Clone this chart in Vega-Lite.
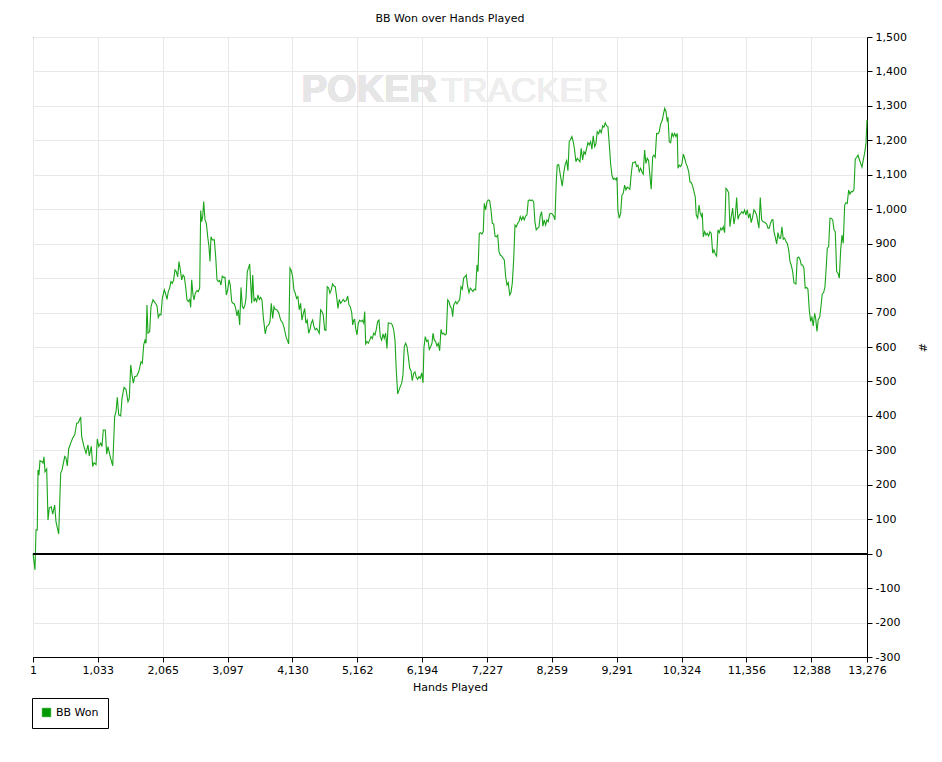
{
  "$schema": "https://vega.github.io/schema/vega-lite/v6.json",
  "width": 834,
  "height": 620,
  "autosize": "none",
  "padding": {"left": 33, "top": 37, "right": 75, "bottom": 105},
  "background": "white",
  "title": {
    "text": "BB Won over Hands Played",
    "font": "DejaVu Sans",
    "fontSize": 11,
    "fontWeight": "normal",
    "color": "black",
    "offset": 7
  },
  "config": {
    "locale": {
      "number": {"decimal": ".", "thousands": ",", "grouping": [3], "currency": ["$", ""], "minus": "-"}
    },
    "view": {"stroke": "black", "strokeWidth": 1},
    "axis": {
      "labelFont": "DejaVu Sans",
      "labelFontSize": 11,
      "labelColor": "black",
      "titleFont": "DejaVu Sans",
      "titleFontSize": 11,
      "titleFontWeight": "normal",
      "titleColor": "black",
      "domainColor": "black",
      "tickColor": "black",
      "tickSize": 5,
      "grid": true,
      "gridColor": "#e8e8e8",
      "gridWidth": 1,
      "labelFlush": false,
      "labelOverlap": false
    }
  },
  "data": {
    "values": [
      {"h": 1, "bb": 0}, {"h": 33, "bb": -47}, {"h": 49, "bb": 69}, {"h": 69, "bb": 69}, {"h": 81, "bb": 243},
      {"h": 96, "bb": 228}, {"h": 112, "bb": 270}, {"h": 144, "bb": 267}, {"h": 160, "bb": 263}, {"h": 176, "bb": 281},
      {"h": 192, "bb": 238}, {"h": 219, "bb": 246}, {"h": 240, "bb": 98}, {"h": 260, "bb": 133}, {"h": 292, "bb": 136},
      {"h": 315, "bb": 115}, {"h": 346, "bb": 141}, {"h": 367, "bb": 93}, {"h": 410, "bb": 57}, {"h": 442, "bb": 234},
      {"h": 463, "bb": 243}, {"h": 506, "bb": 282}, {"h": 526, "bb": 278}, {"h": 547, "bb": 255}, {"h": 569, "bb": 304},
      {"h": 601, "bb": 321}, {"h": 633, "bb": 336}, {"h": 665, "bb": 345}, {"h": 697, "bb": 379}, {"h": 722, "bb": 380},
      {"h": 760, "bb": 397}, {"h": 776, "bb": 340}, {"h": 813, "bb": 310}, {"h": 845, "bb": 292}, {"h": 876, "bb": 316},
      {"h": 897, "bb": 284}, {"h": 929, "bb": 312}, {"h": 951, "bb": 253}, {"h": 972, "bb": 264}, {"h": 1004, "bb": 258},
      {"h": 1024, "bb": 333}, {"h": 1047, "bb": 311}, {"h": 1079, "bb": 321}, {"h": 1099, "bb": 311}, {"h": 1120, "bb": 359},
      {"h": 1152, "bb": 359}, {"h": 1174, "bb": 289}, {"h": 1195, "bb": 311}, {"h": 1227, "bb": 284}, {"h": 1270, "bb": 255},
      {"h": 1301, "bb": 398}, {"h": 1322, "bb": 412}, {"h": 1343, "bb": 454}, {"h": 1365, "bb": 403}, {"h": 1397, "bb": 400},
      {"h": 1418, "bb": 451}, {"h": 1450, "bb": 483}, {"h": 1481, "bb": 477}, {"h": 1513, "bb": 441}, {"h": 1534, "bb": 451},
      {"h": 1556, "bb": 548}, {"h": 1577, "bb": 519}, {"h": 1598, "bb": 495}, {"h": 1620, "bb": 514}, {"h": 1652, "bb": 516},
      {"h": 1684, "bb": 528}, {"h": 1720, "bb": 557}, {"h": 1741, "bb": 553}, {"h": 1763, "bb": 606}, {"h": 1784, "bb": 620},
      {"h": 1800, "bb": 611}, {"h": 1815, "bb": 722}, {"h": 1831, "bb": 640}, {"h": 1858, "bb": 645}, {"h": 1879, "bb": 717},
      {"h": 1911, "bb": 737}, {"h": 1943, "bb": 729}, {"h": 1975, "bb": 719}, {"h": 1995, "bb": 686}, {"h": 2017, "bb": 695},
      {"h": 2038, "bb": 693}, {"h": 2059, "bb": 741}, {"h": 2091, "bb": 766}, {"h": 2113, "bb": 754}, {"h": 2134, "bb": 738},
      {"h": 2154, "bb": 761}, {"h": 2176, "bb": 771}, {"h": 2197, "bb": 790}, {"h": 2218, "bb": 785}, {"h": 2240, "bb": 795},
      {"h": 2261, "bb": 824}, {"h": 2282, "bb": 819}, {"h": 2304, "bb": 804}, {"h": 2325, "bb": 848}, {"h": 2346, "bb": 824},
      {"h": 2368, "bb": 795}, {"h": 2389, "bb": 809}, {"h": 2409, "bb": 804}, {"h": 2431, "bb": 775}, {"h": 2452, "bb": 737},
      {"h": 2473, "bb": 732}, {"h": 2495, "bb": 738}, {"h": 2511, "bb": 715}, {"h": 2527, "bb": 795}, {"h": 2548, "bb": 751},
      {"h": 2564, "bb": 737}, {"h": 2584, "bb": 756}, {"h": 2611, "bb": 764}, {"h": 2632, "bb": 761}, {"h": 2654, "bb": 771},
      {"h": 2670, "bb": 996}, {"h": 2686, "bb": 964}, {"h": 2702, "bb": 979}, {"h": 2718, "bb": 1022}, {"h": 2739, "bb": 969},
      {"h": 2760, "bb": 959}, {"h": 2782, "bb": 920}, {"h": 2802, "bb": 891}, {"h": 2818, "bb": 848}, {"h": 2834, "bb": 920},
      {"h": 2855, "bb": 911}, {"h": 2887, "bb": 911}, {"h": 2909, "bb": 862}, {"h": 2930, "bb": 795}, {"h": 2950, "bb": 790},
      {"h": 2972, "bb": 793}, {"h": 2993, "bb": 780}, {"h": 3014, "bb": 806}, {"h": 3036, "bb": 802}, {"h": 3057, "bb": 802},
      {"h": 3078, "bb": 751}, {"h": 3100, "bb": 766}, {"h": 3121, "bb": 795}, {"h": 3141, "bb": 780}, {"h": 3164, "bb": 732},
      {"h": 3184, "bb": 727}, {"h": 3205, "bb": 725}, {"h": 3227, "bb": 712}, {"h": 3248, "bb": 690}, {"h": 3269, "bb": 708},
      {"h": 3291, "bb": 664}, {"h": 3312, "bb": 773}, {"h": 3333, "bb": 717}, {"h": 3355, "bb": 712}, {"h": 3375, "bb": 722},
      {"h": 3391, "bb": 741}, {"h": 3412, "bb": 819}, {"h": 3434, "bb": 831}, {"h": 3450, "bb": 841}, {"h": 3466, "bb": 785},
      {"h": 3482, "bb": 727}, {"h": 3498, "bb": 809}, {"h": 3519, "bb": 732}, {"h": 3539, "bb": 741}, {"h": 3561, "bb": 732},
      {"h": 3582, "bb": 751}, {"h": 3603, "bb": 738}, {"h": 3625, "bb": 744}, {"h": 3646, "bb": 737}, {"h": 3666, "bb": 688},
      {"h": 3698, "bb": 638}, {"h": 3720, "bb": 659}, {"h": 3752, "bb": 664}, {"h": 3773, "bb": 674}, {"h": 3794, "bb": 727},
      {"h": 3816, "bb": 683}, {"h": 3837, "bb": 717}, {"h": 3857, "bb": 709}, {"h": 3879, "bb": 708}, {"h": 3911, "bb": 700},
      {"h": 3943, "bb": 678}, {"h": 3975, "bb": 670}, {"h": 3996, "bb": 657}, {"h": 4028, "bb": 630}, {"h": 4048, "bb": 620},
      {"h": 4071, "bb": 609}, {"h": 4091, "bb": 829}, {"h": 4112, "bb": 822}, {"h": 4134, "bb": 804}, {"h": 4154, "bb": 766},
      {"h": 4175, "bb": 756}, {"h": 4197, "bb": 741}, {"h": 4218, "bb": 746}, {"h": 4239, "bb": 708}, {"h": 4261, "bb": 727},
      {"h": 4282, "bb": 678}, {"h": 4303, "bb": 696}, {"h": 4325, "bb": 712}, {"h": 4345, "bb": 669}, {"h": 4366, "bb": 678},
      {"h": 4389, "bb": 640}, {"h": 4409, "bb": 650}, {"h": 4430, "bb": 669}, {"h": 4452, "bb": 678}, {"h": 4473, "bb": 659},
      {"h": 4493, "bb": 650}, {"h": 4516, "bb": 654}, {"h": 4536, "bb": 648}, {"h": 4557, "bb": 640}, {"h": 4579, "bb": 708},
      {"h": 4600, "bb": 703}, {"h": 4621, "bb": 693}, {"h": 4643, "bb": 650}, {"h": 4664, "bb": 648}, {"h": 4684, "bb": 775},
      {"h": 4707, "bb": 771}, {"h": 4727, "bb": 756}, {"h": 4748, "bb": 766}, {"h": 4770, "bb": 783}, {"h": 4791, "bb": 777},
      {"h": 4812, "bb": 775}, {"h": 4834, "bb": 746}, {"h": 4855, "bb": 712}, {"h": 4876, "bb": 738}, {"h": 4898, "bb": 727},
      {"h": 4918, "bb": 732}, {"h": 4939, "bb": 738}, {"h": 4961, "bb": 732}, {"h": 4988, "bb": 735}, {"h": 5010, "bb": 748},
      {"h": 5031, "bb": 722}, {"h": 5051, "bb": 717}, {"h": 5074, "bb": 700}, {"h": 5090, "bb": 664}, {"h": 5106, "bb": 678},
      {"h": 5121, "bb": 680}, {"h": 5137, "bb": 654}, {"h": 5158, "bb": 635}, {"h": 5179, "bb": 669}, {"h": 5201, "bb": 678},
      {"h": 5222, "bb": 674}, {"h": 5242, "bb": 678}, {"h": 5265, "bb": 669}, {"h": 5281, "bb": 703}, {"h": 5296, "bb": 609},
      {"h": 5317, "bb": 616}, {"h": 5338, "bb": 611}, {"h": 5360, "bb": 620}, {"h": 5381, "bb": 630}, {"h": 5402, "bb": 624},
      {"h": 5424, "bb": 640}, {"h": 5445, "bb": 635}, {"h": 5465, "bb": 651}, {"h": 5487, "bb": 674}, {"h": 5508, "bb": 678},
      {"h": 5529, "bb": 630}, {"h": 5551, "bb": 620}, {"h": 5572, "bb": 638}, {"h": 5592, "bb": 625}, {"h": 5614, "bb": 640},
      {"h": 5635, "bb": 596}, {"h": 5656, "bb": 670}, {"h": 5678, "bb": 669}, {"h": 5699, "bb": 669}, {"h": 5720, "bb": 664},
      {"h": 5742, "bb": 650}, {"h": 5763, "bb": 620}, {"h": 5783, "bb": 533}, {"h": 5806, "bb": 464}, {"h": 5827, "bb": 475},
      {"h": 5847, "bb": 485}, {"h": 5870, "bb": 495}, {"h": 5890, "bb": 519}, {"h": 5911, "bb": 601}, {"h": 5933, "bb": 611},
      {"h": 5954, "bb": 601}, {"h": 5975, "bb": 572}, {"h": 5997, "bb": 538}, {"h": 6018, "bb": 531}, {"h": 6038, "bb": 502},
      {"h": 6061, "bb": 524}, {"h": 6081, "bb": 528}, {"h": 6102, "bb": 512}, {"h": 6124, "bb": 506}, {"h": 6145, "bb": 514},
      {"h": 6166, "bb": 509}, {"h": 6188, "bb": 525}, {"h": 6209, "bb": 496}, {"h": 6224, "bb": 599}, {"h": 6245, "bb": 630},
      {"h": 6267, "bb": 616}, {"h": 6288, "bb": 620}, {"h": 6309, "bb": 593}, {"h": 6331, "bb": 601}, {"h": 6352, "bb": 611},
      {"h": 6368, "bb": 640}, {"h": 6388, "bb": 620}, {"h": 6410, "bb": 616}, {"h": 6431, "bb": 603}, {"h": 6452, "bb": 611},
      {"h": 6474, "bb": 589}, {"h": 6495, "bb": 651}, {"h": 6516, "bb": 638}, {"h": 6538, "bb": 640}, {"h": 6559, "bb": 635},
      {"h": 6580, "bb": 638}, {"h": 6602, "bb": 737}, {"h": 6622, "bb": 732}, {"h": 6643, "bb": 717}, {"h": 6665, "bb": 712},
      {"h": 6681, "bb": 688}, {"h": 6697, "bb": 722}, {"h": 6729, "bb": 732}, {"h": 6750, "bb": 725}, {"h": 6770, "bb": 732},
      {"h": 6793, "bb": 737}, {"h": 6813, "bb": 775}, {"h": 6834, "bb": 768}, {"h": 6856, "bb": 800}, {"h": 6877, "bb": 804},
      {"h": 6897, "bb": 809}, {"h": 6920, "bb": 775}, {"h": 6941, "bb": 758}, {"h": 6962, "bb": 771}, {"h": 6984, "bb": 766},
      {"h": 7004, "bb": 761}, {"h": 7025, "bb": 768}, {"h": 7047, "bb": 766}, {"h": 7068, "bb": 838}, {"h": 7084, "bb": 819},
      {"h": 7105, "bb": 930}, {"h": 7127, "bb": 932}, {"h": 7147, "bb": 928}, {"h": 7168, "bb": 935}, {"h": 7184, "bb": 1017},
      {"h": 7206, "bb": 998}, {"h": 7227, "bb": 1022}, {"h": 7248, "bb": 1027}, {"h": 7270, "bb": 1025}, {"h": 7291, "bb": 998},
      {"h": 7312, "bb": 959}, {"h": 7334, "bb": 957}, {"h": 7355, "bb": 922}, {"h": 7375, "bb": 920}, {"h": 7398, "bb": 925},
      {"h": 7418, "bb": 877}, {"h": 7439, "bb": 867}, {"h": 7461, "bb": 864}, {"h": 7482, "bb": 858}, {"h": 7503, "bb": 853},
      {"h": 7525, "bb": 804}, {"h": 7546, "bb": 780}, {"h": 7566, "bb": 787}, {"h": 7589, "bb": 751}, {"h": 7609, "bb": 758},
      {"h": 7630, "bb": 785}, {"h": 7652, "bb": 853}, {"h": 7673, "bb": 954}, {"h": 7693, "bb": 949}, {"h": 7716, "bb": 959},
      {"h": 7737, "bb": 964}, {"h": 7757, "bb": 979}, {"h": 7779, "bb": 969}, {"h": 7800, "bb": 979}, {"h": 7820, "bb": 969},
      {"h": 7842, "bb": 980}, {"h": 7863, "bb": 983}, {"h": 7884, "bb": 1025}, {"h": 7906, "bb": 1027}, {"h": 7927, "bb": 1025},
      {"h": 7947, "bb": 1027}, {"h": 7970, "bb": 1022}, {"h": 7990, "bb": 964}, {"h": 8011, "bb": 940}, {"h": 8033, "bb": 945},
      {"h": 8054, "bb": 948}, {"h": 8074, "bb": 979}, {"h": 8097, "bb": 993}, {"h": 8118, "bb": 951}, {"h": 8138, "bb": 969},
      {"h": 8161, "bb": 954}, {"h": 8181, "bb": 969}, {"h": 8202, "bb": 964}, {"h": 8224, "bb": 986}, {"h": 8245, "bb": 988},
      {"h": 8266, "bb": 986}, {"h": 8288, "bb": 980}, {"h": 8309, "bb": 969}, {"h": 8329, "bb": 1075}, {"h": 8345, "bb": 1128},
      {"h": 8368, "bb": 1130}, {"h": 8400, "bb": 1094}, {"h": 8425, "bb": 1067}, {"h": 8452, "bb": 1109}, {"h": 8473, "bb": 1131},
      {"h": 8495, "bb": 1141}, {"h": 8516, "bb": 1112}, {"h": 8536, "bb": 1196}, {"h": 8559, "bb": 1203}, {"h": 8579, "bb": 1211},
      {"h": 8600, "bb": 1196}, {"h": 8622, "bb": 1172}, {"h": 8643, "bb": 1138}, {"h": 8664, "bb": 1148}, {"h": 8686, "bb": 1143},
      {"h": 8707, "bb": 1138}, {"h": 8727, "bb": 1177}, {"h": 8750, "bb": 1143}, {"h": 8770, "bb": 1167}, {"h": 8791, "bb": 1160},
      {"h": 8813, "bb": 1177}, {"h": 8834, "bb": 1193}, {"h": 8855, "bb": 1187}, {"h": 8877, "bb": 1196}, {"h": 8898, "bb": 1174},
      {"h": 8918, "bb": 1213}, {"h": 8941, "bb": 1182}, {"h": 8961, "bb": 1190}, {"h": 8982, "bb": 1225}, {"h": 9004, "bb": 1219},
      {"h": 9025, "bb": 1230}, {"h": 9046, "bb": 1222}, {"h": 9068, "bb": 1242}, {"h": 9089, "bb": 1238}, {"h": 9110, "bb": 1251},
      {"h": 9132, "bb": 1242}, {"h": 9152, "bb": 1240}, {"h": 9173, "bb": 1191}, {"h": 9195, "bb": 1133}, {"h": 9216, "bb": 1099},
      {"h": 9237, "bb": 1087}, {"h": 9259, "bb": 1090}, {"h": 9280, "bb": 1085}, {"h": 9296, "bb": 1093}, {"h": 9311, "bb": 998},
      {"h": 9332, "bb": 974}, {"h": 9355, "bb": 988}, {"h": 9375, "bb": 1041}, {"h": 9396, "bb": 1046}, {"h": 9418, "bb": 1070},
      {"h": 9439, "bb": 1056}, {"h": 9459, "bb": 1064}, {"h": 9482, "bb": 1061}, {"h": 9502, "bb": 1058}, {"h": 9523, "bb": 1102},
      {"h": 9545, "bb": 1135}, {"h": 9566, "bb": 1135}, {"h": 9587, "bb": 1138}, {"h": 9609, "bb": 1124}, {"h": 9630, "bb": 1128},
      {"h": 9650, "bb": 1109}, {"h": 9673, "bb": 1119}, {"h": 9693, "bb": 1109}, {"h": 9714, "bb": 1102}, {"h": 9736, "bb": 1172},
      {"h": 9757, "bb": 1133}, {"h": 9778, "bb": 1148}, {"h": 9800, "bb": 1141}, {"h": 9820, "bb": 1099}, {"h": 9841, "bb": 1058},
      {"h": 9864, "bb": 1152}, {"h": 9884, "bb": 1157}, {"h": 9905, "bb": 1151}, {"h": 9927, "bb": 1220}, {"h": 9948, "bb": 1219},
      {"h": 9969, "bb": 1225}, {"h": 9991, "bb": 1247}, {"h": 10018, "bb": 1259}, {"h": 10040, "bb": 1280}, {"h": 10056, "bb": 1293},
      {"h": 10077, "bb": 1283}, {"h": 10097, "bb": 1254}, {"h": 10108, "bb": 1267}, {"h": 10129, "bb": 1196}, {"h": 10151, "bb": 1193},
      {"h": 10172, "bb": 1222}, {"h": 10192, "bb": 1211}, {"h": 10215, "bb": 1220}, {"h": 10235, "bb": 1211}, {"h": 10256, "bb": 1220},
      {"h": 10268, "bb": 1119}, {"h": 10288, "bb": 1128}, {"h": 10310, "bb": 1124}, {"h": 10331, "bb": 1133}, {"h": 10352, "bb": 1160},
      {"h": 10374, "bb": 1148}, {"h": 10395, "bb": 1133}, {"h": 10415, "bb": 1124}, {"h": 10438, "bb": 1109}, {"h": 10458, "bb": 1080},
      {"h": 10479, "bb": 1077}, {"h": 10501, "bb": 1067}, {"h": 10522, "bb": 1051}, {"h": 10542, "bb": 1036}, {"h": 10558, "bb": 983},
      {"h": 10581, "bb": 974}, {"h": 10602, "bb": 1012}, {"h": 10622, "bb": 988}, {"h": 10645, "bb": 978}, {"h": 10654, "bb": 990},
      {"h": 10670, "bb": 920}, {"h": 10692, "bb": 935}, {"h": 10713, "bb": 925}, {"h": 10734, "bb": 930}, {"h": 10756, "bb": 922},
      {"h": 10776, "bb": 935}, {"h": 10797, "bb": 930}, {"h": 10820, "bb": 872}, {"h": 10840, "bb": 882}, {"h": 10861, "bb": 870},
      {"h": 10883, "bb": 864}, {"h": 10904, "bb": 940}, {"h": 10924, "bb": 932}, {"h": 10947, "bb": 945}, {"h": 10967, "bb": 940},
      {"h": 10988, "bb": 949}, {"h": 11010, "bb": 932}, {"h": 11031, "bb": 1061}, {"h": 11052, "bb": 1056}, {"h": 11074, "bb": 1048},
      {"h": 11094, "bb": 949}, {"h": 11115, "bb": 978}, {"h": 11138, "bb": 1003}, {"h": 11158, "bb": 957}, {"h": 11179, "bb": 978},
      {"h": 11201, "bb": 1034}, {"h": 11222, "bb": 971}, {"h": 11243, "bb": 983}, {"h": 11265, "bb": 988}, {"h": 11285, "bb": 993},
      {"h": 11306, "bb": 988}, {"h": 11328, "bb": 998}, {"h": 11349, "bb": 983}, {"h": 11370, "bb": 998}, {"h": 11392, "bb": 974},
      {"h": 11413, "bb": 988}, {"h": 11433, "bb": 961}, {"h": 11456, "bb": 978}, {"h": 11476, "bb": 998}, {"h": 11497, "bb": 993},
      {"h": 11519, "bb": 983}, {"h": 11540, "bb": 961}, {"h": 11556, "bb": 945}, {"h": 11577, "bb": 1034}, {"h": 11599, "bb": 969},
      {"h": 11620, "bb": 964}, {"h": 11656, "bb": 961}, {"h": 11679, "bb": 957}, {"h": 11700, "bb": 945}, {"h": 11720, "bb": 945},
      {"h": 11743, "bb": 961}, {"h": 11763, "bb": 969}, {"h": 11779, "bb": 969}, {"h": 11795, "bb": 935}, {"h": 11815, "bb": 920},
      {"h": 11838, "bb": 899}, {"h": 11859, "bb": 932}, {"h": 11879, "bb": 916}, {"h": 11902, "bb": 916}, {"h": 11922, "bb": 949},
      {"h": 11943, "bb": 913}, {"h": 11965, "bb": 916}, {"h": 11986, "bb": 906}, {"h": 12006, "bb": 901}, {"h": 12029, "bb": 883},
      {"h": 12050, "bb": 848}, {"h": 12070, "bb": 838}, {"h": 12093, "bb": 819}, {"h": 12113, "bb": 787}, {"h": 12145, "bb": 783},
      {"h": 12166, "bb": 858}, {"h": 12188, "bb": 861}, {"h": 12209, "bb": 855}, {"h": 12230, "bb": 838}, {"h": 12252, "bb": 838},
      {"h": 12272, "bb": 828}, {"h": 12293, "bb": 771}, {"h": 12316, "bb": 773}, {"h": 12336, "bb": 768}, {"h": 12357, "bb": 708},
      {"h": 12379, "bb": 674}, {"h": 12399, "bb": 688}, {"h": 12420, "bb": 661}, {"h": 12443, "bb": 698}, {"h": 12459, "bb": 683},
      {"h": 12480, "bb": 645}, {"h": 12500, "bb": 680}, {"h": 12523, "bb": 686}, {"h": 12543, "bb": 717}, {"h": 12564, "bb": 754},
      {"h": 12586, "bb": 758}, {"h": 12607, "bb": 775}, {"h": 12628, "bb": 835}, {"h": 12644, "bb": 887}, {"h": 12666, "bb": 891},
      {"h": 12686, "bb": 974}, {"h": 12707, "bb": 974}, {"h": 12730, "bb": 969}, {"h": 12751, "bb": 940}, {"h": 12771, "bb": 935},
      {"h": 12793, "bb": 819}, {"h": 12814, "bb": 814}, {"h": 12835, "bb": 800}, {"h": 12857, "bb": 882}, {"h": 12878, "bb": 925},
      {"h": 12898, "bb": 901}, {"h": 12921, "bb": 1012}, {"h": 12941, "bb": 1019}, {"h": 12962, "bb": 1017}, {"h": 12984, "bb": 1056},
      {"h": 13005, "bb": 1044}, {"h": 13026, "bb": 1051}, {"h": 13048, "bb": 1051}, {"h": 13068, "bb": 1056}, {"h": 13089, "bb": 1145},
      {"h": 13112, "bb": 1151}, {"h": 13132, "bb": 1157}, {"h": 13153, "bb": 1145}, {"h": 13175, "bb": 1133}, {"h": 13196, "bb": 1122},
      {"h": 13217, "bb": 1143}, {"h": 13239, "bb": 1164}, {"h": 13260, "bb": 1191}, {"h": 13276, "bb": 1259}
    ]
  },
  "layer": [
    {
      "mark": {"type": "line", "strokeWidth": 1.1, "interpolate": "linear"},
      "encoding": {
        "x": {
          "field": "h",
          "type": "quantitative",
          "title": "Hands Played",
          "scale": {"domain": [1, 13276], "nice": false, "zero": false},
          "axis": {
            "values": [1, 1033, 2065, 3097, 4130, 5162, 6194, 7227, 8259, 9291, 10324, 11356, 12388, 13276],
            "tickCount": 30,
            "format": ",d",
            "grid": true,
            "labelPadding": 2,
            "titlePadding": 6
          }
        },
        "y": {
          "field": "bb",
          "type": "quantitative",
          "title": "#",
          "scale": {"domain": [-300, 1500], "nice": false, "zero": false},
          "axis": {
            "orient": "right",
            "values": [-300, -200, -100, 0, 100, 200, 300, 400, 500, 600, 700, 800, 900, 1000, 1100, 1200, 1300, 1400, 1500],
            "tickCount": 30,
            "format": ",d",
            "grid": true,
            "labelPadding": 3,
            "titlePadding": 10
          }
        },
        "color": {
          "datum": "BB Won",
          "type": "nominal",
          "scale": {"domain": ["BB Won"], "range": ["#1aa51a"]},
          "legend": {
            "title": null,
            "orient": "none",
            "legendX": -1,
            "legendY": 661,
            "strokeColor": "black",
            "padding": 9,
            "labelFont": "DejaVu Sans",
            "labelFontSize": 11,
            "labelColor": "black",
            "labelOffset": 4,
            "symbolType": "square",
            "symbolSize": 70,
            "encode": {
              "symbols": {
                "update": {
                  "fill": {"value": "#009900"},
                  "stroke": {"value": "black"},
                  "strokeWidth": {"value": 1},
                  "shape": {"value": "square"}
                }
              }
            }
          }
        }
      }
    },
    {
      "mark": {"type": "text", "align": "right", "baseline": "alphabetic", "font": "Liberation Sans", "fontSize": 38, "fontWeight": "bold", "color": "#e6e6e6"},
      "encoding": {
        "x": {"datum": 6430, "type": "quantitative"},
        "y": {"datum": 1310, "type": "quantitative"},
        "text": {"value": "POKER"}
      }
    },
    {
      "mark": {"type": "text", "align": "left", "baseline": "alphabetic", "font": "Liberation Sans", "fontSize": 35, "color": "#eeeeee"},
      "encoding": {
        "x": {"datum": 6494, "type": "quantitative"},
        "y": {"datum": 1310, "type": "quantitative"},
        "text": {"value": "TRACKER"}
      }
    },
    {
      "mark": {"type": "rule", "color": "black", "strokeWidth": 1},
      "encoding": {
        "y": {"datum": 0, "type": "quantitative"}
      }
    }
  ]
}
